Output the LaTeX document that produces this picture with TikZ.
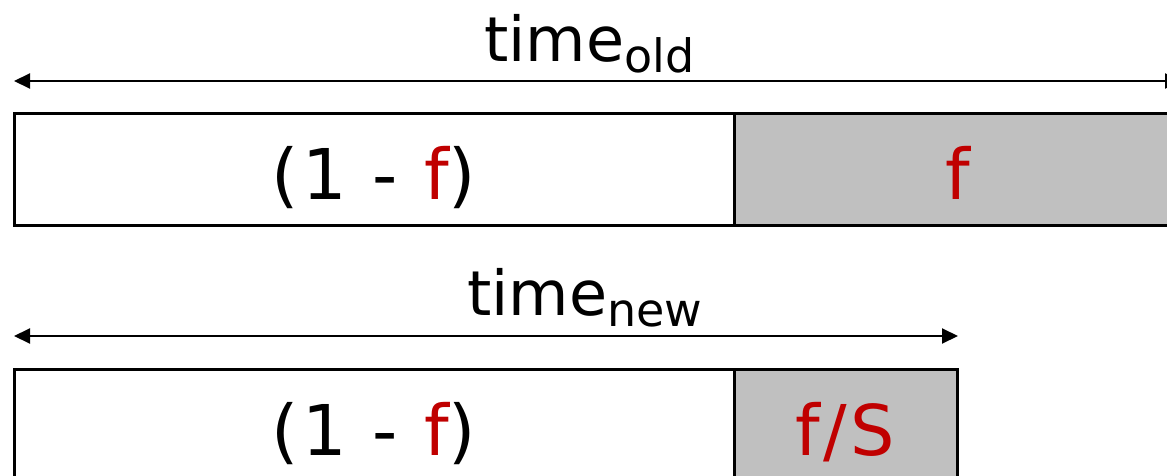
\documentclass[tikz,border=0pt]{standalone}
\usepackage{fontspec}
\setmainfont{DejaVu Sans}
\usetikzlibrary{arrows.meta}
\definecolor{fracred}{HTML}{C00000}
\definecolor{partgray}{HTML}{C0C0C0}
\newcommand{\fr}{\textcolor{fracred}{f}}
\newcommand{\timelabel}[1]{\fontsize{62}{70}\selectfont time\raisebox{-11pt}{\fontsize{46}{50}\selectfont #1}}

\begin{document}
\begin{tikzpicture}[x=1pt,y=-1pt,
		part/.style={draw=black,line width=3pt},
		partlabel/.style={anchor=base,inner sep=0pt,font=\fontsize{70}{84}\selectfont\addfontfeature{LetterSpace=5}},
		span/.style={line width=2pt,{Triangle[length=16pt,width=15pt]}-{Triangle[length=16pt,width=15pt]}}]
		\path[use as bounding box,clip] (0,0) rectangle (1167,476);
		
		% old run time
		\draw[part] (14,114) rectangle (734,225);
		\draw[part,fill=partgray] (734,114) rectangle (1182,225);
		\node[partlabel] (oldserial) at (374,199) {(1 - \fr)};
		\node[partlabel,fracred] (oldpar) at (958,199) {f};
		
		% new run time
		\draw[part] (14,369) rectangle (734,500);
		\draw[part,fill=partgray] (734,369) rectangle (957,500);
		\node[partlabel] (newserial) at (374,455) {(1 - \fr)};
		\node[partlabel,fracred] (newpar) at (845,455) {f/S};
		
		% arrows
		\coordinate (oldL) at (14,81);
		\coordinate (oldR) at (1181,81);
		\coordinate (newL) at (14,336);
		\coordinate (newR) at (958,336);
		\draw[span] (oldL) -- (oldR);
		\draw[span] (newL) -- (newR);
		
		\node[anchor=base west,inner sep=0pt] (timeold) at (484,62) {\timelabel{old}};
		\node[anchor=base west,inner sep=0pt] (timenew) at (467,315) {\timelabel{new}};
\end{tikzpicture}
\end{document}
